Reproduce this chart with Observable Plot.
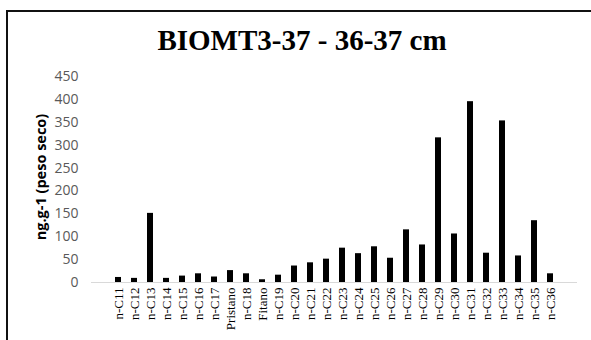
<!DOCTYPE html>
<html><head><meta charset="utf-8">
<script src="https://cdn.jsdelivr.net/npm/d3@7"></script>
<script src="https://cdn.jsdelivr.net/npm/@observablehq/plot@0.6"></script>
<style>
html,body{margin:0;padding:0;background:#fff;}
#wrap{position:relative;width:591px;height:340px;overflow:hidden;}
#border{position:absolute;left:6px;top:10px;width:600px;height:360px;border:2px solid #111;box-sizing:border-box;}
#title{position:absolute;left:0;top:24px;width:604px;text-align:center;font-family:"Liberation Serif",serif;font-weight:bold;font-size:29px;color:#000;}
#ylab{position:absolute;left:40px;top:177px;transform:translate(-50%,-50%) rotate(-90deg);white-space:nowrap;font-family:"Open Sans",sans-serif;font-weight:bold;font-size:14.5px;color:#000;}
#chart{position:absolute;left:0;top:0;}
</style></head>
<body><div id="wrap"><div id="border"></div><div id="title">BIOMT3-37 - 36-37 cm</div><div id="ylab">ng.g-1 (peso seco)</div><div id="chart"></div></div>
<script>
const categories = ["n-C11","n-C12","n-C13","n-C14","n-C15","n-C16","n-C17","Pristano","n-C18","Fitano","n-C19","n-C20","n-C21","n-C22","n-C23","n-C24","n-C25","n-C26","n-C27","n-C28","n-C29","n-C30","n-C31","n-C32","n-C33","n-C34","n-C35","n-C36"];
const values = [11,9,151,9,14,19,12,26,19,6,16,36,43,51,75,63,78,53,115,82,316,106,395,64,353,58,135,19];
const yTicks = [0,50,100,150,200,250,300,350,400,450];
const data = categories.map((c,i)=>({cat:c, v:values[i]}));
const plot = Plot.plot({
  width:591, height:340,
  marginLeft:91, marginRight:14, marginTop:76, marginBottom:58,
  style:{background:"transparent"},
  x:{domain:categories, padding:0.64, label:null},
  y:{domain:[0,450], label:null},
  marks:[
    Plot.gridY(yTicks,{stroke:"#d9d9d9", strokeOpacity:1, strokeWidth:1, x1:90, x2:578}),
    Plot.ruleY([0],{stroke:"#d9d9d9"}),
    Plot.barY(data,{x:"cat", y:"v", fill:"#000"}),
    Plot.axisY(yTicks,{tickSize:0, tickPadding:13, label:null, fontSize:14, fill:"#595959", fontFamily:"Open Sans, sans-serif"}),
    Plot.axisX({tickSize:0, tickPadding:5, tickRotate:-90, label:null, fontSize:13, fill:"#000", fontFamily:"Liberation Serif, serif"})
  ]
});
document.getElementById("chart").appendChild(plot);
</script></body></html>
